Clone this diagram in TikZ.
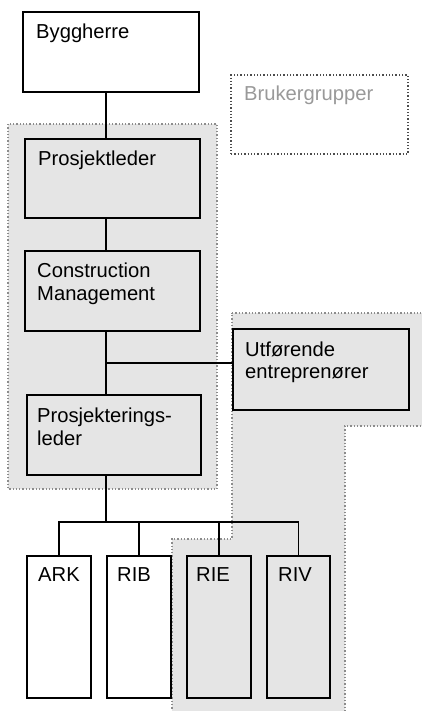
\documentclass[tikz,border=0pt]{standalone}
\usepackage{fontspec}
\setmainfont{Liberation Sans}
\begin{document}
\begin{tikzpicture}[x=1pt,y=-1pt,
  box/.style={draw=black,line width=1.4pt,inner sep=0pt,outer sep=0pt,anchor=north west},
  wbox/.style={box,fill=white},
  txt/.style={anchor=base west,inner sep=0pt,font=\fontsize{20.2}{23}\selectfont},
  grp/.style={fill=black!10,draw=black!45,line width=1.3pt,dotted},
  link/.style={draw=black,line width=1.4pt}]
\useasboundingbox (0,0) rectangle (421,711);
\fill[white] (0,0) rectangle (421,711);

% shaded groups
\path[grp] (8,124) rectangle (217,489);
\path[grp] (232,313) -- (430,313) -- (430,426) -- (345,426) -- (345,720)
  -- (172,720) -- (172,539) -- (232,539) -- cycle;

% legend
\node[box,draw=black!70,line width=1.3pt,dotted,minimum width=177pt,minimum height=79pt] (legend) at (231,75) {};
\node[txt,text=black!40] (legendtxt) at (244,101) {Brukergrupper};

% boxes
\node[wbox,minimum width=176pt,minimum height=80pt] (bygg) at (23,12) {};
\node[box,minimum width=175pt,minimum height=79pt] (pl) at (25,139) {};
\node[box,minimum width=175pt,minimum height=80pt] (cm) at (25,251) {};
\node[box,minimum width=176pt,minimum height=81pt] (utf) at (233,329) {};
\node[box,minimum width=174pt,minimum height=80pt] (prl) at (27,395) {};
\node[wbox,minimum width=64pt,minimum height=142pt] (ark) at (27,556) {};
\node[wbox,minimum width=64pt,minimum height=142pt] (rib) at (107,556) {};
\node[box,minimum width=64pt,minimum height=142pt] (rie) at (187,556) {};
\node[box,minimum width=63pt,minimum height=142pt] (riv) at (267,556) {};

% labels
\node[txt] (tbygg) at (36,38.5) {Byggherre};
\node[txt] (tpl) at (38,166) {Prosjektleder};
\node[txt] (tcm1) at (37,277) {Construction};
\node[txt] (tcm2) at (37,300) {Management};
\node[txt] (tutf1) at (245,356) {Utførende};
\node[txt] (tutf2) at (245,378) {entreprenører};
\node[txt] (tprl1) at (37,422) {Prosjekterings-};
\node[txt] (tprl2) at (37,445) {leder};
\node[txt] (tark) at (38,581) {ARK};
\node[txt] (trib) at (117,581) {RIB};
\node[txt] (trie) at (196,581) {RIE};
\node[txt] (triv) at (278,581) {RIV};

% connectors
\coordinate (spine) at (106,0);
\coordinate (junc) at (106,363);
\coordinate (bar) at (106,522);
\draw[link] (bygg.south -| spine) -- (pl.north -| spine);
\draw[link] (pl.south -| spine) -- (cm.north -| spine);
\draw[link] (cm.south -| spine) -- (prl.north -| spine);
\draw[link] (junc) -- (junc -| utf.west);
\draw[link] (prl.south -| spine) -- (bar);
\draw[link] (ark.north) -- (ark.north |- bar) -- (riv.north |- bar) -- (riv.north);
\draw[link] (rib.north) -- (rib.north |- bar);
\draw[link] (rie.north) -- (rie.north |- bar);
\end{tikzpicture}
\end{document}
